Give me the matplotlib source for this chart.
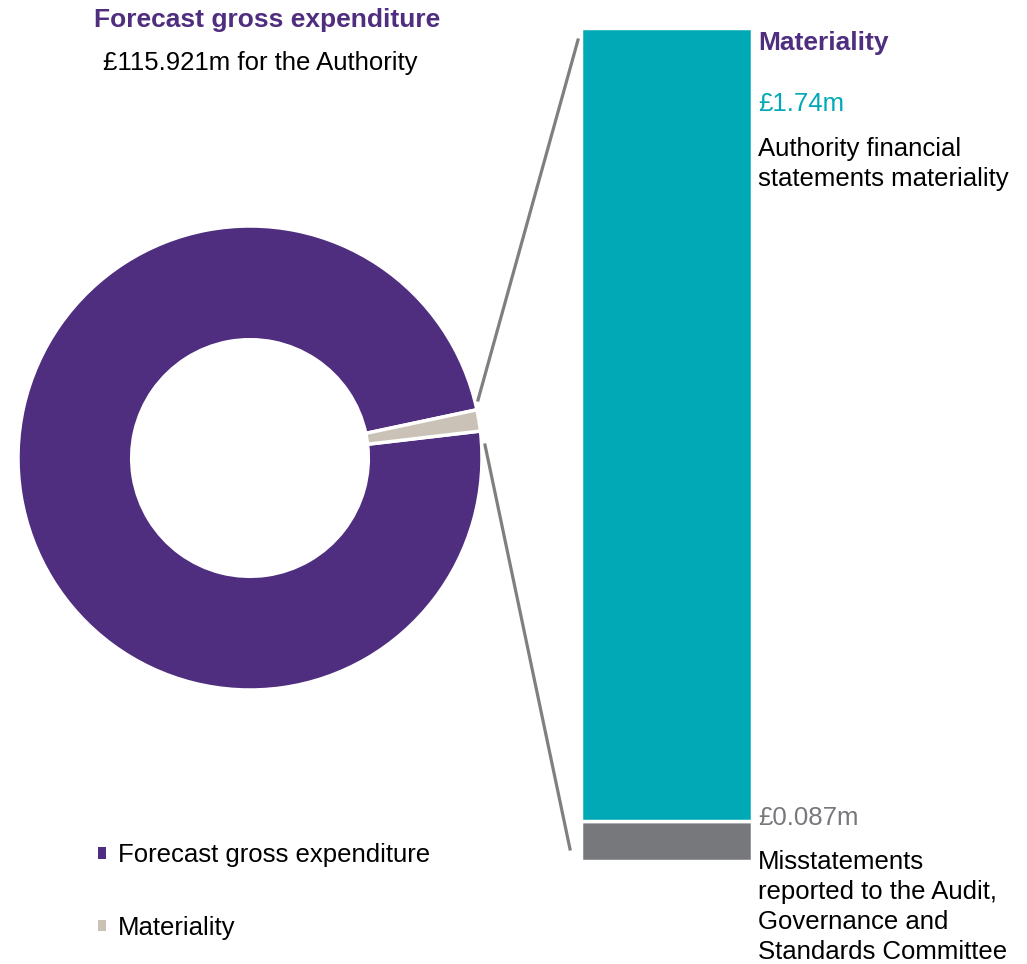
import matplotlib
matplotlib.use("Agg")
import matplotlib.pyplot as plt
from matplotlib.patches import Patch
from matplotlib.lines import Line2D

plt.rcParams['font.family'] = ['Liberation Sans', 'DejaVu Sans']

# Data
donut_labels = ["Forecast gross expenditure", "Materiality"]
donut_values = [115.921, 1.74]
bar_labels = ["Misstatements reported to the Audit, Governance and Standards Committee",
              "Authority financial statements materiality"]
bar_values = [0.087, 1.74]

PURPLE = "#4F2D7F"
BEIGE = "#CAC2B6"
TEAL = "#00A9B5"
GREY = "#77787B"
LINE = "#7F7F7F"

FS = 18.5
FSB = 19

W, H = 1027, 964
fig = plt.figure(figsize=(W / 100, H / 100), dpi=100)

def fx(px):
    return px / W

def fy(py):
    return 1 - py / H

# Donut
cx, cy, r = 250, 458, 232
ax = fig.add_axes([fx(cx - r), fy(cy + r), 2 * r / W, 2 * r / H])
ax.pie(donut_values, colors=[PURPLE, BEIGE], startangle=12, counterclock=True,
       radius=1.0, wedgeprops=dict(width=0.49, edgecolor="white", linewidth=2.5))
ax.set_xlim(-1, 1)
ax.set_ylim(-1, 1)
ax.set_aspect("equal")
ax.axis("off")

# Stacked bar
bx0, bx1, by0, by1 = 581, 752, 28, 861
bax = fig.add_axes([fx(bx0), fy(by1), (bx1 - bx0) / W, (by1 - by0) / H])
bottom = 0
for v, c in zip(bar_values, [GREY, TEAL]):
    bax.bar(0, v, width=1.0, bottom=bottom, color=c, edgecolor="white", linewidth=2.5)
    bottom += v
bax.set_xlim(-0.5, 0.5)
bax.set_ylim(0, bottom)
bax.axis("off")

# Connector lines
fig.add_artist(Line2D([fx(478), fx(578)], [fy(400), fy(40)], color=LINE, lw=2.3))
fig.add_artist(Line2D([fx(485), fx(570)], [fy(445), fy(849)], color=LINE, lw=2.3))

# Titles
fig.text(fx(267), fy(20), "Forecast gross expenditure", color=PURPLE, fontsize=FSB,
         fontweight="bold", ha="center", va="center")
fig.text(fx(260), fy(63), "£%.3fm for the Authority" % donut_values[0], color="black",
         fontsize=FS, ha="center", va="center")

# Right-hand annotations
tx = fx(758)
fig.text(tx, fy(43), "Materiality", color=PURPLE, fontsize=FSB, fontweight="bold",
         ha="left", va="center")
fig.text(tx, fy(104), "£%.2fm" % bar_values[1], color=TEAL, fontsize=FS, ha="left", va="center")
fig.text(tx, fy(164), "Authority financial\nstatements materiality", color="black",
         fontsize=FS, ha="left", va="center", linespacing=1.36)
fig.text(tx, fy(907), "Misstatements\nreported to the Audit,\nGovernance and\nStandards Committee",
         color="black", fontsize=FS, ha="left", va="center", linespacing=1.33)
fig.text(tx, fy(818), "£%.3fm" % bar_values[0], color=GREY, fontsize=FS, ha="left", va="center")

# Legend
handles = [Patch(facecolor=c, edgecolor="none") for c in [PURPLE, BEIGE]]
leg = fig.legend(handles, donut_labels, loc="upper left",
                 bbox_to_anchor=(fx(98), fy(843)), frameon=False, fontsize=FS,
                 handlelength=0.33, handleheight=0.33, handletextpad=0.45,
                 labelspacing=1.9, borderaxespad=0, borderpad=0)

fig.savefig("out.png", dpi=100)
